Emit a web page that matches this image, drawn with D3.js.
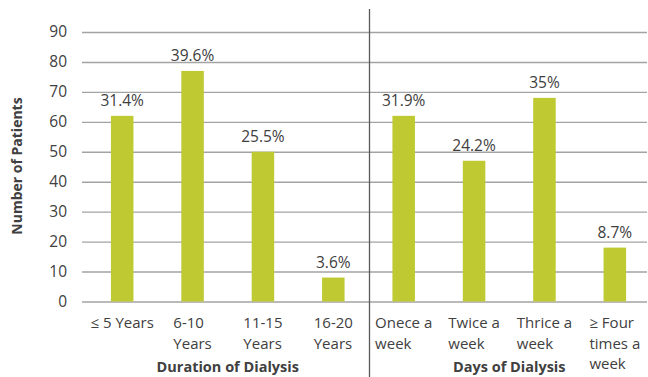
<!DOCTYPE html>
<html>
<head>
<meta charset="utf-8">
<script src="https://cdn.jsdelivr.net/npm/d3@7"></script>
<style>
  body { margin: 0; background: #fff; }
  text { font-family: "Open Sans", sans-serif; fill: #404040; }
</style>
</head>
<body>
<div class="canvas"></div>
<script>
const durationCats = ['≤ 5 Years', '6-10\nYears', '11-15\nYears', '16-20\nYears']
const durationCounts = [62, 77, 50, 8]
const durationPct = ['31.4%', '39.6%', '25.5%', '3.6%']

const daysCats = ['Onece a\nweek', 'Twice a\nweek', 'Thrice a\nweek', '≥ Four\ntimes a\nweek']
const daysCounts = [62, 47, 68, 18]
const daysPct = ['31.9%', '24.2%', '35%', '8.7%']

const yTicks = [0, 10, 20, 30, 40, 50, 60, 70, 80, 90]
const groupTitles = ['Duration of Dialysis', 'Days of Dialysis']

const width = 648, height = 377
const gridLeft = 82, gridRight = 647

const svg = d3.select('.canvas').append('svg')
    .attr('width', width)
    .attr('height', height)

// one table for both panels
let rows = durationCats.map((c, i) => ({cat: c, n: durationCounts[i], pct: durationPct[i]}))
    .concat(daysCats.map((c, i) => ({cat: c, n: daysCounts[i], pct: daysPct[i]})))

const x = d3.scaleBand()
    .domain(rows.map(d => d.cat))
    .range([87, 650])
    .paddingInner(0.68)
    .paddingOuter(0.34)

const y = d3.scaleLinear().domain([0, 90]).range([301.5, 32])

// gridlines + y labels
let yAxis = svg.append('g')
    .attr('transform', `translate(${gridLeft},0)`)
    .call(d3.axisLeft(y).tickValues(yTicks).tickSize(-(gridRight - gridLeft)).tickPadding(15))
yAxis.select('.domain').remove()
yAxis.selectAll('line').attr('stroke', '#a3a3a3').attr('stroke-width', 1.4)
yAxis.selectAll('text')
    .attr('font-size', '15.5px')
    .attr('font-family', '"Open Sans", sans-serif')
    .attr('fill', '#404040')

// divider between the two groups
svg.append('line')
    .attr('x1', 369.5).attr('x2', 369.5)
    .attr('y1', 9).attr('y2', height)
    .attr('stroke', '#595959')
    .attr('stroke-width', 1.3)

svg.selectAll('.bar')
    .data(rows)
    .enter().append('rect')
    .attr('class', 'bar')
    .attr('x', d => x(d.cat))
    .attr('width', x.bandwidth())
    .attr('y', d => y(d.n))
    .attr('height', d => y(0) - y(d.n))
    .attr('fill', '#bfca33')

svg.selectAll('.pct')
    .data(rows)
    .enter().append('text')
    .attr('class', 'pct')
    .attr('x', d => x(d.cat) + x.bandwidth() / 2)
    .attr('y', d => y(d.n) - 10)
    .attr('text-anchor', 'middle')
    .attr('font-size', '15.5px')
    .text(d => d.pct)

// category labels: lines left aligned, block centred under bar
rows.forEach(d => {
    let lines = d.cat.split('\n')
    let t = svg.append('text').attr('font-size', '15px')
    lines.forEach((l, i) => {
        t.append('tspan').attr('y', 328 + i * 20.5).text(l)
    })
    let maxW = d3.max(t.selectAll('tspan').nodes(), n => n.getComputedTextLength())
    t.selectAll('tspan').attr('x', x(d.cat) + x.bandwidth() / 2 - maxW / 2)
})

// group titles
let centers = [
    (x(durationCats[0]) + x(durationCats[3]) + x.bandwidth()) / 2,
    (x(daysCats[0]) + x(daysCats[3]) + x.bandwidth()) / 2
]
svg.selectAll('.gtitle')
    .data(groupTitles)
    .enter().append('text')
    .attr('class', 'gtitle')
    .attr('x', (d, i) => centers[i])
    .attr('y', 372)
    .attr('text-anchor', 'middle')
    .attr('font-size', '14.5px')
    .attr('font-weight', 'bold')
    .text(d => d)

svg.append('text')
    .attr('transform', 'translate(22,166) rotate(-90)')
    .attr('text-anchor', 'middle')
    .attr('font-size', '14px')
    .attr('font-weight', 'bold')
    .text('Number of Patients')
</script>
</body>
</html>
